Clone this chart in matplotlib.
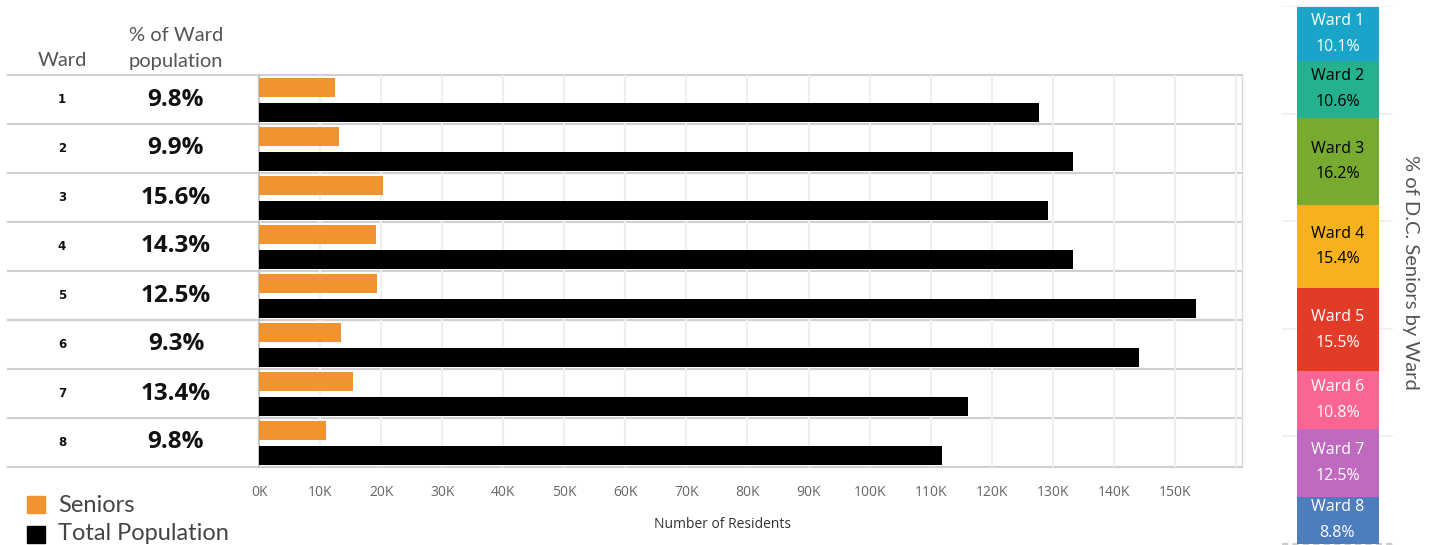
import matplotlib
matplotlib.use("Agg")
import matplotlib.pyplot as plt
import matplotlib.transforms as mtransforms
from matplotlib.patches import Rectangle
from matplotlib.ticker import FuncFormatter, MultipleLocator

# ---------------- data ----------------
wards = ["1", "2", "3", "4", "5", "6", "7", "8"]
pct_of_ward = ["9.8%", "9.9%", "15.6%", "14.3%", "12.5%", "9.3%", "13.4%", "9.8%"]
seniors = [12500, 13100, 20300, 19200, 19300, 13400, 15400, 11000]
total_pop = [127700, 133300, 129300, 133300, 153400, 144100, 116100, 111800]

share_labels = ["Ward 1", "Ward 2", "Ward 3", "Ward 4", "Ward 5", "Ward 6", "Ward 7", "Ward 8"]
share_pct = [10.1, 10.6, 16.2, 15.4, 15.5, 10.8, 12.5, 8.8]
share_colors = ["#1BA4C9", "#25B08F", "#78AA2F", "#F6B11F", "#E23B27", "#FB6591", "#C06ABF", "#4D7DBC"]
share_text_colors = ["white", "black", "black", "black", "white", "white", "white", "white"]

ORANGE = "#F39231"
W, H = 1432, 545
LIGHT_FONT = "Lato"

fig = plt.figure(figsize=(W / 100, H / 100), dpi=100)

def fr(x0, y0, x1, y1):
    return [x0 / W, 1 - y1 / H, (x1 - x0) / W, (y1 - y0) / H]

# ---------------- main bar axes ----------------
ax = fig.add_axes(fr(259, 75, 1242, 467))
n = len(wards)
rows = list(range(n))
ax.barh([r + 0.255 for r in rows], seniors, height=0.39, color=ORANGE, zorder=3)
ax.barh([r + 0.765 for r in rows], total_pop, height=0.39, color="black", zorder=3)
ax.set_ylim(n, 0)
ax.set_xlim(0, 161000)
ax.set_yticks([])
ax.xaxis.set_major_locator(MultipleLocator(10000))
ax.xaxis.set_major_formatter(FuncFormatter(lambda v, p: f"{int(v/1000)}K" if v <= 150000 else ""))
ax.tick_params(axis="x", length=0, pad=13, labelsize=10, labelcolor="#666666")
for lab in ax.get_xticklabels():
    lab.set_fontfamily("Open Sans")
ax.grid(axis="x", color="#EFEFEF", linewidth=1.5, zorder=0)
for s in ["top", "bottom"]:
    ax.spines[s].set_visible(False)
ax.spines["left"].set_color("#C8C8C8")
ax.spines["left"].set_linewidth(1.5)
ax.spines["right"].set_color("#DADADA")
ax.spines["right"].set_linewidth(1)
ax.set_xlabel("Number of Residents", fontsize=10, color="#333333", family="Open Sans")
ax.xaxis.set_label_coords((722 - 259) / 983, -(524 - 467) / 392)
ax.xaxis.label.set_verticalalignment("center")

# table rows (tied to data rows)
trans = mtransforms.blended_transform_factory(ax.transAxes, ax.transData)
x_left = (8 - 259) / 983
for i in range(n + 1):
    ax.plot([x_left, 1], [i, i], transform=trans, color="#D0D0D0", lw=1.5, clip_on=False, zorder=1)
x_ward = (62 - 259) / 983
x_pct = (176 - 259) / 983
for i, (w, p) in enumerate(zip(wards, pct_of_ward)):
    ax.text(x_ward, i + 0.5, w, transform=trans, ha="center", va="center",
            fontsize=8.5, fontweight="bold", color="#111111", family="DejaVu Sans")
    ax.text(x_pct, i + 0.5, p, transform=trans, ha="center", va="center",
            fontsize=17.5, fontweight="bold", color="#111111", family="Open Sans")

# headers
hdr = dict(ha="center", va="center", fontsize=14.5, color="#555555", family=LIGHT_FONT)
fig.text(62 / W, 1 - 61 / H, "Ward", **hdr)
fig.text(176 / W, 1 - 35 / H, "% of Ward", **hdr)
fig.text(176 / W, 1 - 61 / H, "population", **hdr)

# legend
fig.patches.append(Rectangle((27 / W, 1 - 513 / H), 18 / W, 17 / H, transform=fig.transFigure,
                             color=ORANGE, figure=fig))
fig.patches.append(Rectangle((27 / W, 1 - 543 / H), 18 / W, 17 / H, transform=fig.transFigure,
                             color="black", figure=fig))
fig.text(58 / W, 1 - 505 / H, "Seniors", ha="left", va="center", fontsize=17,
         color="#444444", family=LIGHT_FONT)
fig.text(58 / W, 1 - 534 / H, "Total Population", ha="left", va="center", fontsize=17,
         color="#444444", family=LIGHT_FONT)

# ---------------- stacked share bar ----------------
ax2 = fig.add_axes(fr(1282, 6, 1393, 544))
ax2.set_xlim(0, 1)
ax2.set_ylim(0, 100)
ax2.axis("off")
for gy in [20, 40, 60, 80, 100]:
    ax2.axhline(gy, color="#EEEEEE", lw=1.2, zorder=0)
ax2.axhline(0, color="#CCCCCC", lw=1.5, ls=(0, (3, 2)), zorder=0, clip_on=False)
top = sum(share_pct)
cum = top
for lab, v, c, tc in zip(share_labels, share_pct, share_colors, share_text_colors):
    bottom = cum - v
    ax2.bar(0.5, v, bottom=bottom, width=82 / 111, color=c, zorder=2)
    mid = bottom + v / 2
    ax2.text(0.5, mid + 2.4, lab, ha="center", va="center", fontsize=11.5, color=tc,
             family="Open Sans", zorder=3)
    ax2.text(0.5, mid - 2.4, f"{v:.1f}%", ha="center", va="center", fontsize=11.5, color=tc,
             family="Open Sans", zorder=3)
    cum = bottom

fig.text(1410 / W, 1 - 272 / H, "% of D.C. Seniors by Ward", rotation=270, ha="center", va="center",
         fontsize=14.5, color="#555555", family=LIGHT_FONT)

fig.savefig("out.png", dpi=100)
